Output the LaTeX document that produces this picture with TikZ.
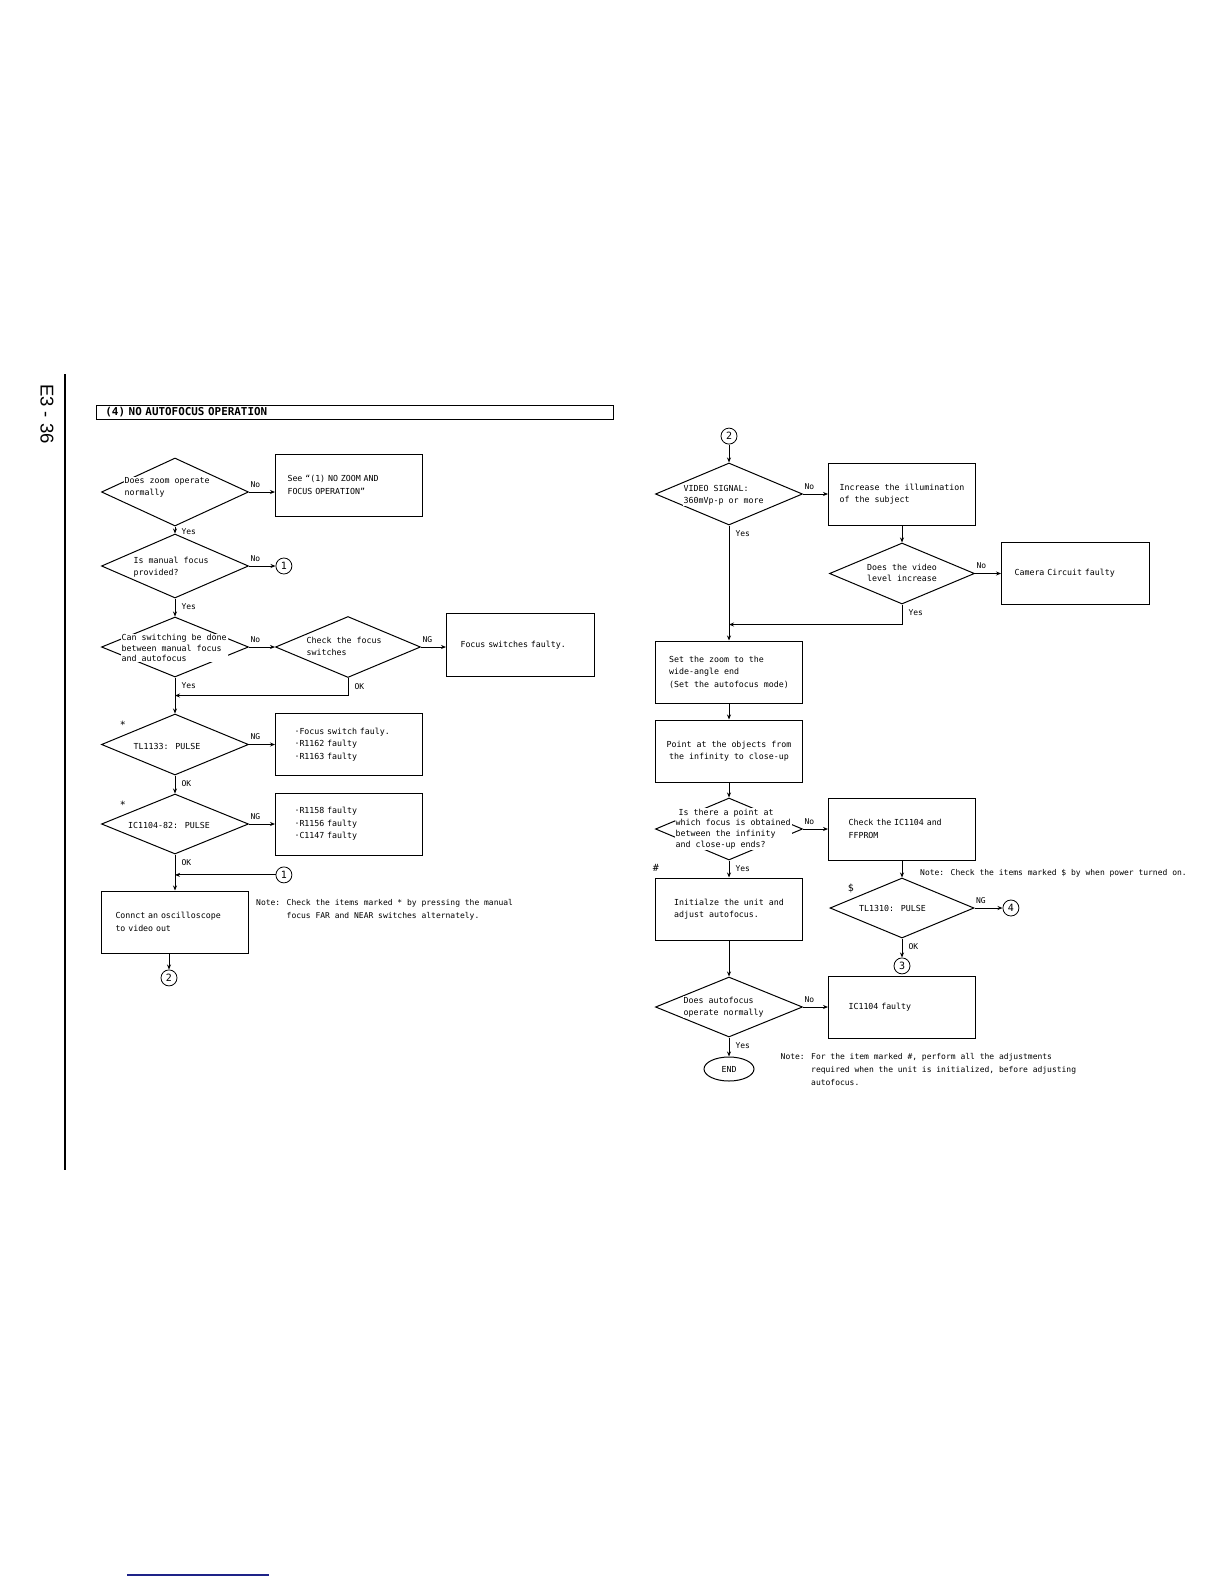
\documentclass[tikz,border=0pt]{standalone}
\usepackage{fontspec}
\usepackage{tikz}
\usetikzlibrary{arrows.meta,positioning,shapes.geometric,calc}
\newfontfamily\chartfont{DejaVu Sans Mono}
\newfontfamily\pagefont{Liberation Sans}
\definecolor{linkblue}{HTML}{1E2388}

\begin{document}
\begin{tikzpicture}[
  x=1pt, y=-1pt,
  box/.style={
    draw, line width=1pt, minimum width=147pt, minimum height=62pt, inner sep=0pt,
    align=left, font=\chartfont\fontsize{8.3}{12.5}\selectfont
  },
  decision/.style={
    draw, diamond, line width=1pt, minimum width=147pt, minimum height=62pt, inner sep=0pt
  },
  qtext/.style={fill=white, inner sep=1pt, align=left, font=\chartfont\fontsize{8.3}{11.5}\selectfont},
  note/.style={inner sep=0pt, align=left, font=\chartfont\fontsize{8}{13}\selectfont},
  lbl/.style={inner sep=0pt, font=\chartfont\fontsize{8}{9}\selectfont},
  starmark/.style={inner sep=0pt, font=\chartfont\fontsize{10}{10}\selectfont},
  nolbl/.style={lbl, pos=0, anchor=south west, xshift=1pt, yshift=4pt},
  yeslbl/.style={lbl, pos=0, anchor=north west, xshift=6pt, yshift=-5pt},
  conn/.style={circle, draw, line width=0.8pt, minimum size=16pt, inner sep=0pt, font=\chartfont\fontsize{10}{10}\selectfont},
  arrow/.style={-{Stealth[length=5pt, width=4pt]}, line width=1pt}
]
  \useasboundingbox (0,0) rectangle (1224,1584);

  % Page margin: rule and page number
  \draw[line width=1.6pt] (65,374) -- (65,1170);
  \node[font=\pagefont\fontsize{18.5}{18.5}\selectfont, rotate=-90] (pageno) at (47,414) {E3 - 36};
  \draw[line width=1.5pt, draw=linkblue] (127,1575) -- (269,1575);

  % Title bar
  \node[draw, line width=0.8pt, anchor=north west, minimum height=14pt, inner ysep=0pt, inner xsep=9pt,
        text width=499pt, align=left, font=\chartfont\bfseries\fontsize{10.9}{11}\selectfont]
        (title) at (96,405) {(4) NO AUTOFOCUS OPERATION};

  % Left column
  \node[decision, minimum height=68pt] (zoomok) at (175,492) {};
  \node[qtext, anchor=west] at ([xshift=22.5pt, yshift=4.5pt]zoomok.west) {Does zoom operate\\normally};
  \node[box, right=26pt of zoomok, yshift=7pt, text width=123pt] (seebox) {See “(1) NO ZOOM AND\\FOCUS OPERATION”};

  \node[decision, below=7pt of zoomok, minimum height=64pt] (manualq) {};
  \node[qtext, anchor=west] at ([xshift=31.5pt, yshift=-1pt]manualq.west) {Is manual focus\\provided?};
  \node[conn, right=26.5pt of manualq] (one1) {1};

  \node[decision, below=18pt of manualq, minimum height=60pt] (switchq) {};
  \node[qtext, anchor=west, font=\chartfont\fontsize{8.3}{10.2}\selectfont] at ([xshift=19.5pt, yshift=-1pt]switchq.west)
    {Can switching be done\\between manual focus\\and autofocus};
  \node[decision, right=26pt of switchq, minimum width=145pt, minimum height=61pt] (checksw) {};
  \node[qtext, anchor=west] at ([xshift=30.5pt, yshift=0.5pt]checksw.west) {Check the focus\\switches};
  \node[box, right=25pt of checksw, minimum width=148pt, minimum height=63pt, yshift=2pt, text width=120pt] (swfaulty) {Focus switches faulty.};

  \node[decision, below=36pt of switchq, minimum height=61pt] (tl1133) {};
  \node[qtext] at ([xshift=-8pt, yshift=-1.5pt]tl1133.center) {TL1133: PULSE};
  \node[starmark] at ([xshift=-15pt, yshift=4pt]tl1133.north west) {*};
  \node[box, right=26pt of tl1133, text width=109pt] (tl1133box) {·Focus switch fauly.\\·R1162 faulty\\·R1163 faulty};

  \node[decision, below=18pt of tl1133, minimum height=60pt] (ic1104) {};
  \node[qtext] at ([xshift=-6pt, yshift=-1pt]ic1104.center) {IC1104-82: PULSE};
  \node[starmark] at ([xshift=-15pt, yshift=4pt]ic1104.north west) {*};
  \node[box, right=26pt of ic1104, text width=109pt] (ic1104box) {·R1158 faulty\\·R1156 faulty\\·C1147 faulty};
  \coordinate (one2pos) at (ic1104box.south -| one1);
  \node[conn, below=11pt of one2pos] (one2) {1};

  \node[box, below=36pt of ic1104, text width=119pt] (scopebox) {Connct an oscilloscope\\to video out};
  \node[conn, below=16pt of scopebox, xshift=-6pt] (two1) {2};
  \node[note, anchor=north west] (note1) at ([xshift=7pt, yshift=-9pt]scopebox.north east)
    {Note: Check the items marked * by pressing the manual\\\phantom{Note: }focus FAR and NEAR switches alternately.};

  % Left column connectors
  \draw[arrow] (zoomok.east) -- node[nolbl] {No} (zoomok.east -| seebox.west);
  \draw[arrow] (zoomok.south) -- node[yeslbl, yshift=3pt] {Yes} (manualq.north);
  \draw[arrow] (manualq.east) -- node[nolbl] {No} (one1.west);
  \draw[arrow] (manualq.south) -- node[yeslbl] {Yes} (switchq.north);
  \draw[arrow] (switchq.east) -- node[nolbl] {No} (checksw.west);
  \draw[arrow] (checksw.east) -- node[nolbl] {NG} (checksw.east -| swfaulty.west);
  \coordinate (join1) at ($(switchq.south)!0.5!(tl1133.north)$);
  \draw[arrow] (switchq.south) -- node[yeslbl] {Yes} (tl1133.north);
  \draw[arrow] (checksw.south) -- node[yeslbl] {OK} (checksw.south |- join1) -- (join1);
  \draw[arrow] (tl1133.east) -- node[nolbl] {NG} (tl1133box.west);
  \draw[arrow] (tl1133.south) -- node[yeslbl] {OK} (ic1104.north);
  \draw[arrow] (ic1104.east) -- node[nolbl] {NG} (ic1104box.west);
  \draw[arrow] (ic1104.south) -- node[yeslbl] {OK} (scopebox.north);
  \draw[arrow] (one2.west) -- (one2.west -| ic1104.south);
  \draw[arrow] (two1 |- scopebox.south) -- (two1.north);

  % Right column
  \node[decision] (videoq) at (729,494) {};
  \node[qtext, anchor=west] at ([xshift=27.5pt, yshift=-1.5pt]videoq.west) {VIDEO SIGNAL:\\360mVp-p or more};
  \node[conn, above=18pt of videoq] (two2) {2};
  \node[box, right=25pt of videoq] (illum) {Increase the illumination\\of the subject};

  \node[decision, below=17pt of illum, minimum width=145pt, minimum height=61pt] (levelq) {};
  \node[qtext, align=center] at ([yshift=0.5pt]levelq.center) {Does the video\\level increase};
  \node[box, right=26pt of levelq, minimum width=148pt, text width=122pt] (camfault) {Camera Circuit faulty};

  \node[box, below=115pt of videoq] (zoomset) {Set the zoom to the\\wide-angle end\\(Set the autofocus mode)};
  \node[box, below=16pt of zoomset, align=center] (pointobj) {Point at the objects from\\the infinity to close-up};

  \node[decision, below=15pt of pointobj] (pointq) {};
  \node[qtext, anchor=west, font=\chartfont\fontsize{8.3}{10.7}\selectfont] at ([xshift=19.5pt]pointq.west)
    {\hspace{3pt}Is there a point at\\which focus is obtained\\between the infinity\\and close-up ends?};
  \node[box, right=25pt of pointq, text width=107pt] (checkic) {Check the IC1104 and\\FFPROM};
  \node[note, anchor=west] (note2) at ([xshift=18pt, yshift=-13pt]checkic.south)
    {Note: Check the items marked \$ by when power turned on.};

  \node[box, below=17pt of pointq] (initbox) {Initialze the unit and\\adjust autofocus.};
  \node[starmark] at ([xshift=1pt, yshift=10pt]initbox.north west) {\#};

  \node[decision, below=17pt of checkic, minimum width=144pt, minimum height=60pt] (tl1310) {};
  \node[qtext] at ([xshift=-9.5pt]tl1310.center) {TL1310: PULSE};
  \node[starmark] at ([xshift=-15pt, yshift=4pt]tl1310.north west) {\$};
  \node[conn, right=28pt of tl1310] (four) {4};
  \node[conn, below=19pt of tl1310] (three) {3};

  \node[decision, below=36pt of initbox, minimum height=60pt] (afq) {};
  \node[qtext, anchor=west] at ([xshift=27.5pt]afq.west) {Does autofocus\\operate normally};
  \node[box, right=25pt of afq, text width=107pt] (icfault) {IC1104 faulty};
  \node[draw, ellipse, line width=1pt, minimum width=50pt, minimum height=24pt, inner sep=0pt,
        below=19pt of afq, font=\chartfont\fontsize{8.3}{10}\selectfont] (endnode) {END};
  \node[note, anchor=west] (note3) at ([xshift=26pt]endnode.east)
    {Note: For the item marked \#, perform all the adjustments\\\phantom{Note: }required when the unit is initialized, before adjusting\\\phantom{Note: }autofocus.};

  % Right column connectors
  \draw[arrow] (two2.south) -- (videoq.north);
  \draw[arrow] (videoq.east) -- node[nolbl] {No} (illum.west);
  \draw[arrow] (illum.south) -- (levelq.north);
  \draw[arrow] (levelq.east) -- node[nolbl] {No} (camfault.west);
  \coordinate (join2) at ($(levelq.south)+(0,20)$);
  \draw[arrow] (levelq.south) -- node[yeslbl] {Yes} (join2) -- (join2 -| videoq.south);
  \draw[arrow] (videoq.south) -- node[yeslbl] {Yes} (zoomset.north);
  \draw[arrow] (zoomset.south) -- (pointobj.north);
  \draw[arrow] (pointobj.south) -- (pointq.north);
  \draw[arrow] (pointq.east) -- node[nolbl] {No} (checkic.west);
  \draw[arrow] (pointq.south) -- node[yeslbl] {Yes} (initbox.north);
  \draw[arrow] (checkic.south) -- (tl1310.north);
  \draw[arrow] (tl1310.east) -- node[nolbl] {NG} (four.west);
  \draw[arrow] (tl1310.south) -- node[yeslbl] {OK} (three.north);
  \draw[arrow] (initbox.south) -- (afq.north);
  \draw[arrow] (afq.east) -- node[nolbl] {No} (icfault.west);
  \draw[arrow] (afq.south) -- node[yeslbl] {Yes} (endnode.north);
\end{tikzpicture}
\end{document}
